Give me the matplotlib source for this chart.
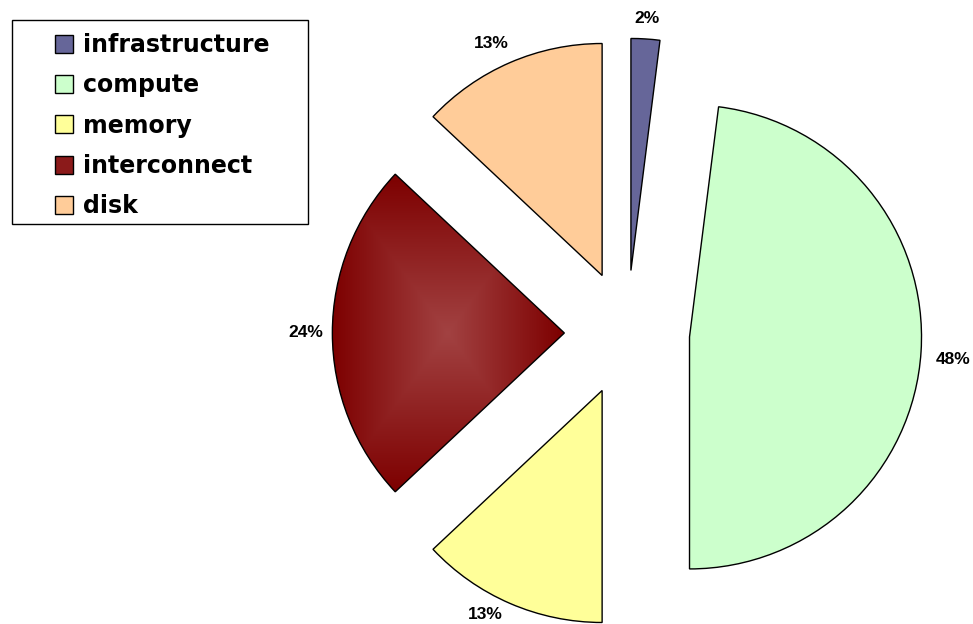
import numpy as np
import matplotlib
matplotlib.use('Agg')
import matplotlib.pyplot as plt
from matplotlib.patches import Patch, Rectangle

# share of cost per component
labels = ['infrastructure', 'compute', 'memory', 'interconnect', 'disk']
shares = [2, 48, 13, 24, 13]
colors = ['#666699', '#CCFFCC', '#FFFF99', '#8B1A1A', '#FFCC99']

W, H = 973, 624
R_PX = 232.0                 # pie radius in pixels
CX, CY = 627.0, 291.0        # pie centre in pixels (from lower left)

# small nudges (pixels, x right / y up) for the percentage labels
label_nudge = [(0, -7), (4, -6), (-14, 14), (1, 0), (-8, -6)]


def main():
    fig = plt.figure(figsize=(W / 100, H / 100), dpi=100)
    ax = fig.add_axes([0, 0, 1, 1])

    wedges, texts, autotexts = ax.pie(
        shares, colors=colors, startangle=90, counterclock=False,
        explode=[0.27] * len(shares), autopct='%1.0f%%', pctdistance=1.12,
        wedgeprops=dict(edgecolor='black', linewidth=1.0),
        textprops=dict(fontsize=12.5, fontweight='bold', family='Liberation Sans'))

    for txt, (dx, dy) in zip(autotexts, label_nudge):
        x, y = txt.get_position()
        txt.set_position((x + dx / R_PX, y + dy / R_PX))

    # gradient fill for the interconnect wedge
    w = wedges[3]
    th = np.radians(np.linspace(w.theta1, w.theta2, 200))
    xs = np.concatenate([[w.center[0]], w.center[0] + w.r * np.cos(th)])
    ys = np.concatenate([[w.center[1]], w.center[1] + w.r * np.sin(th)])
    x0, x1, y0, y1 = xs.min(), xs.max(), ys.min(), ys.max()
    u, v = np.meshgrid(np.linspace(-1, 1, 300), np.linspace(-1, 1, 300))
    t = np.maximum(np.abs(u), np.abs(v))
    c_mid = np.array([162, 66, 66]) / 255.0
    c_edge = np.array([125, 0, 0]) / 255.0
    img = c_mid[None, None, :] * (1 - t[..., None]) + c_edge[None, None, :] * t[..., None]
    im = ax.imshow(img, extent=(x0, x1, y0, y1), origin='lower', zorder=2,
                   interpolation='bilinear')
    im.set_clip_path(w)
    w.set_facecolor('none')
    w.set_zorder(3)

    ax.set_aspect('auto')
    ax.set_xlim(-CX / R_PX, (W - CX) / R_PX)
    ax.set_ylim(-CY / R_PX, (H - CY) / R_PX)
    ax.axis('off')

    # legend box drawn separately so its size can be set exactly
    fig.patches.append(Rectangle((12 / W, 1 - 224 / H), 296 / W, 204 / H,
                                 transform=fig.transFigure, facecolor='white',
                                 edgecolor='black', linewidth=1.0, zorder=4))
    handles = [Patch(facecolor=c, edgecolor='black', linewidth=1.0) for c in colors]
    leg = fig.legend(handles, labels, loc='upper left',
                     bbox_to_anchor=(55 / W, 1 - 33 / H),
                     borderaxespad=0, borderpad=0, frameon=False,
                     prop=dict(family='DejaVu Sans', weight='bold', size=17),
                     handlelength=0.78, handleheight=0.78, handletextpad=0.42,
                     labelspacing=0.69)
    leg.set_zorder(5)

    fig.savefig('out.png', dpi=100)
    plt.close(fig)


if __name__ == '__main__':
    main()
